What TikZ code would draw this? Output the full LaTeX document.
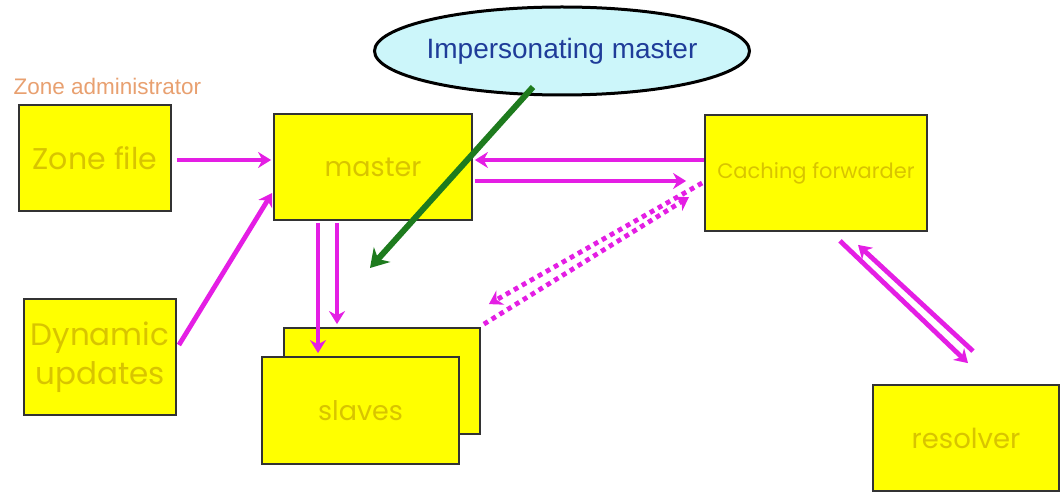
\documentclass[tikz,border=0pt]{standalone}
\usepackage{fontspec}
\setmainfont{Liberation Sans}
\newfontfamily\gothic{Poppins}
\usetikzlibrary{arrows.meta,calc,shapes.geometric}
\definecolor{boxfill}{HTML}{FFFF00}
\definecolor{boxtext}{HTML}{D8C400}
\definecolor{flow}{HTML}{E41EE4}
\definecolor{ptr}{HTML}{1E7B1E}
\definecolor{bubble}{HTML}{CCF6FA}
\definecolor{bubbletext}{HTML}{1F3C99}
\definecolor{admin}{HTML}{E8A070}
\tikzset{
  x=1pt, y=-1pt,
  box/.style={draw=black!80, line width=1.8pt, fill=boxfill, rectangle,
    inner sep=0pt, align=center, text=boxtext, font=\gothic},
  flowarrow/.style={draw=flow, line width=4.8pt,
    -{Stealth[length=13pt,width=16pt]}},
  dotarrow/.style={flowarrow, dash pattern=on 4.8pt off 4.4pt},
}
\begin{document}
\begin{tikzpicture}
\useasboundingbox (0,0) rectangle (1061,494);

% label above the zone file
\node[text=admin, font=\fontsize{22.5}{26}\selectfont, anchor=west] (adm) at (10,86) {Zone administrator};

% boxes
\node[box, minimum width=152pt, minimum height=106pt,
  font=\gothic\fontsize{30}{34}\selectfont] (zf) at (95,158) {Zone file};
\node[box, minimum width=198pt, minimum height=106pt,
  font=\gothic\fontsize{27}{30}\selectfont] (master) at (373,167) {master};
\node[box, minimum width=222pt, minimum height=116pt,
  font=\gothic\fontsize{21}{24}\selectfont] (cf) at (816,173) {Caching forwarder};
\node[box, minimum width=152pt, minimum height=116pt,
  font=\gothic\fontsize{31}{39}\selectfont] (dyn) at (100,357) {Dynamic\\updates};
\node[box, minimum width=196pt, minimum height=106pt] (slaveB) at (382,381) {};
\node[box, minimum width=197pt, minimum height=107pt,
  font=\gothic\fontsize{27}{30}\selectfont] (slaveF) at (360.5,410.5) {slaves};
\node[box, minimum width=186pt, minimum height=106pt,
  font=\gothic\fontsize{27.5}{30}\selectfont] (res) at (966,438) {resolver};

% callout ellipse, its text laid on top so the outline keeps its size
\node[ellipse, draw=black, line width=3pt, fill=bubble, inner sep=0pt,
  minimum width=375pt, minimum height=88pt] (imp) at (562,51) {};
\node[text=bubbletext, font=\fontsize{28}{32}\selectfont] (imptext) at (imp.center) {Impersonating master};

% zone data into the master
\draw[flowarrow] ($(zf.east)+(5,2)$) -- ($(master.west)+(-2,-7)$);
\draw[flowarrow] ($(dyn.east)+(2,-12)$) -- ($(master.west)+(-1,26)$);

% master <-> caching forwarder
\draw[flowarrow] ($(cf.west)+(0,-13)$) -- ($(master.east)+(2,-7)$);
\draw[flowarrow] ($(master.east)+(2,14)$) -- ($(cf.west)+(-18,8)$);

% master to slaves
\draw[flowarrow] ($(master.south)+(-55,2)$) -- ($(slaveF.north)+(-42.5,-3)$);
\draw[flowarrow] ($(master.south)+(-36,2)$) -- ($(slaveB.north)+(-45,-3)$);

% slaves <-> caching forwarder
\draw[dotarrow] ($(cf.west)+(-2,10)$) -- ($(slaveB.north east)+(8,-23)$);
\draw[dotarrow] ($(slaveB.north east)+(3,-3)$) -- ($(cf.west)+(-15,24)$);

% caching forwarder <-> resolver
\draw[flowarrow] ($(cf.south)+(24,9)$) -- ($(res.north)+(2,-21)$);
\draw[flowarrow] ($(res.north)+(7,-33)$) -- ($(cf.south)+(42,13)$);

% pointer from the callout
\coordinate (impend) at (370,268);
\draw[draw=ptr, line width=6pt, -{Stealth[length=18pt,width=22pt]}]
  ($(imp.center)+(-29,36)$) -- (impend);
\end{tikzpicture}
\end{document}
